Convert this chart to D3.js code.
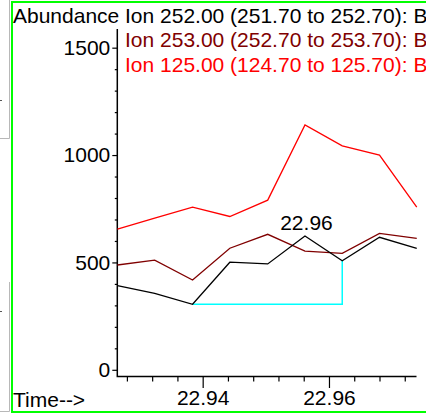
<!DOCTYPE html>
<html><head><meta charset="utf-8">
<script src="https://cdn.jsdelivr.net/npm/d3@7"></script>
<style>
html,body{margin:0;padding:0;background:#fff;overflow:hidden;}
svg{display:block;font-family:"Liberation Sans",Arial,sans-serif;}
</style></head>
<body>
<svg id="c" width="426" height="413"></svg>
<script>
const times  = [22.9265, 22.9324, 22.9384, 22.9443, 22.9503, 22.9562, 22.9621, 22.9680, 22.9739];
const ion252 = [392, 356, 305, 501, 493, 623, 508, 617, 566];
const ion253 = [488, 511, 418, 566, 631, 553, 542, 635, 612];
const ion125 = [655, 706, 757, 714, 790, 1140, 1043, 1000, 757];
const seriesLabels = [
  "Ion 252.00 (251.70 to 252.70): BLANK.D\\data.ms",
  "Ion 253.00 (252.70 to 253.70): BLANK.D\\data.ms",
  "Ion 125.00 (124.70 to 125.70): BLANK.D\\data.ms"
];
const seriesColors = ["#000000", "#800000", "#ff0000"];
const xMajorTicks = [22.94, 22.96];
const yMajorTicks = [0, 500, 1000, 1500];
const peakLabel = "22.96";
const peakIndex = 5;
const baselineStart = 2, baselineEnd = 6;

const svg = d3.select("#c");
const L = 117.3, R = 416.5, T = 29, B = 376.5;
const x = d3.scaleLinear().domain([22.92648, 22.97386]).range([L, R]);
const y = d3.scaleLinear().domain([0, 1587]).range([369.8, T]);

// background window fragments
const g0 = svg.append("g");
g0.append("path").attr("d","M9.5,0V138.5H0").attr("fill","none").attr("stroke","#b8b8b8").attr("stroke-width",1);
g0.append("path").attr("d","M9.5,282V411.5H0").attr("fill","none").attr("stroke","#b8b8b8").attr("stroke-width",1);
g0.append("line").attr("x1",0).attr("x2",2).attr("y1",100.5).attr("y2",100.5).attr("stroke","#555");
g0.append("line").attr("x1",0).attr("x2",2).attr("y1",311.5).attr("y2",311.5).attr("stroke","#555");

// green frame
svg.append("path").attr("d","M426,2H12V412H426").attr("fill","none").attr("stroke","#00ff00").attr("stroke-width",2);

// y axis ticks
const yMinor = d3.range(0, 1501, 100).filter(v => !yMajorTicks.includes(v));
const yaMinor = svg.append("g").attr("transform",`translate(${L},0)`)
  .call(d3.axisLeft(y).tickValues(yMinor).tickSize(2.5).tickFormat(""));
const yaMajor = svg.append("g").attr("transform",`translate(${L},0)`)
  .call(d3.axisLeft(y).tickValues(yMajorTicks).tickSize(5).tickPadding(2).tickFormat(d3.format("d")));
[yaMinor, yaMajor].forEach(g => { g.select(".domain").remove(); g.selectAll("line").attr("stroke","#000").attr("stroke-width",1.2); });
yaMajor.selectAll("text").attr("font-size","21px").attr("fill","#000").attr("font-family","Liberation Sans, Arial, sans-serif");

// x axis ticks
const xMinor = d3.range(0, 12).map(i => +(22.928 + i*0.004).toFixed(3)).filter(v => !xMajorTicks.some(m => Math.abs(m-v)<1e-6));
const xaMinor = svg.append("g").attr("transform",`translate(0,${B})`)
  .call(d3.axisBottom(x).tickValues(xMinor).tickSize(5).tickFormat(""));
const xaMajor = svg.append("g").attr("transform",`translate(0,${B})`)
  .call(d3.axisBottom(x).tickValues(xMajorTicks).tickSize(11.5).tickPadding(2).tickFormat(d3.format(".2f")));
[xaMinor, xaMajor].forEach(g => { g.select(".domain").remove(); g.selectAll("line").attr("stroke","#000").attr("stroke-width",1.2); });
xaMajor.selectAll("text").attr("font-size","21px").attr("fill","#000").attr("font-family","Liberation Sans, Arial, sans-serif");

// axis lines
svg.append("path").attr("d",`M${L},${T}V${B}H${R}`).attr("fill","none").attr("stroke","#000").attr("stroke-width",1.5);

// integration baseline
const base = [[times[baselineStart], ion252[baselineStart]], [times[baselineEnd], ion252[baselineStart]], [times[baselineEnd], ion252[baselineEnd]]];
svg.append("path").attr("d", d3.line().x(d=>x(d[0])).y(d=>y(d[1]))(base))
  .attr("fill","none").attr("stroke","#00ffff").attr("stroke-width",1.5);

// series lines
const line = d3.line().x((d,i)=>x(times[i])).y(d=>y(d));
[ion125, ion253, ion252].forEach((s, k) => {
  svg.append("path").attr("d", line(s)).attr("fill","none")
    .attr("stroke", seriesColors[2-k]).attr("stroke-width",1.3);
});

// peak label
svg.append("text").attr("x", x(times[peakIndex]) + 1.5).attr("y", 229.5)
  .attr("text-anchor","middle").attr("font-size","21px").attr("fill","#000").text(peakLabel);

// titles
svg.append("text").attr("x",13).attr("y",22.5).attr("font-size","21px").attr("fill","#000").text("Abundance");
seriesLabels.forEach((t,i) => {
  svg.append("text").attr("x",125).attr("y",22.5 + i*24.9).attr("font-size","21px")
    .attr("fill",seriesColors[i]).text(t);
});
svg.append("text").attr("x",13).attr("y",407).attr("font-size","21px").attr("fill","#000").text("Time-->");
</script>
</body></html>
